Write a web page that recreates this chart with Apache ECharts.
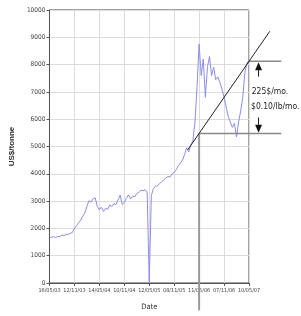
<!DOCTYPE html>
<html><head><meta charset="utf-8">
<script src="https://cdn.jsdelivr.net/npm/echarts@6/dist/echarts.min.js"></script>
<style>html,body{margin:0;padding:0;background:#fff}#c{width:301px;height:316px}</style>
</head><body><div id="c"></div>
<script>
// x tick labels (every 12 samples)
const tickLabels = ['16/05/03','12/11/03','14/05/04','10/11/04','12/05/05','08/11/05','11/05/06','07/11/06','10/05/07'];
// copper price, US$/tonne, sampled at 97 evenly spaced dates
const prices = [
 1680,1670,1700,1660,1710,1690,1760,1730,1790,1780,1820,1850,
 2000,2100,2200,2300,2450,2560,2800,3020,2960,3080,3120,2800,
 2680,2780,2620,2740,2700,2860,2800,2900,2880,3050,3220,2880,
 2950,3100,3230,3080,3180,3150,3280,3320,3400,3380,3420,3330,
 0,3200,3450,3550,3560,3650,3700,3780,3850,3900,3880,4000,
 4050,4150,4300,4400,4500,4700,4950,4800,5050,5200,5900,7200,
 8750,7600,8200,6800,7900,8300,7600,7900,7450,7550,7350,7100,
 6800,6450,6100,5900,5700,5850,5350,5900,6300,6800,7700,8050,
 8150
];
// annotation geometry in data units [sample index, US$/tonne]
const trendLine = [[66.5,4875],[106,9220]];
const upperLevel = [[96,8120],[111.5,8120]];
const lowerLevel = [[72,5480],[111.5,5480]];
const dropLine = [[72,5480],[72,-1000]];
const upArrow = [[100.6,7560],[100.6,8090]];
const downArrow = [[100.6,6060],[100.6,5500]];
const noteLines = [['225$/mo.',[97.3,7000]],['$0.10/lb/mo.',[97.0,6460]]];

const font = '"DejaVu Sans Condensed", "Liberation Sans", sans-serif';
const chart = echarts.init(document.getElementById('c'));
chart.setOption({
  animation:false,
  grid:{left:39, right:52, top:10, bottom:33, show:true, borderColor:'#444', borderWidth:1},
  xAxis:{type:'value', min:0, max:96, interval:12,
    name:'Date', nameLocation:'middle', nameGap:20,
    nameTextStyle:{fontFamily:font, fontSize:7.5, color:'#333'},
    axisLine:{lineStyle:{color:'#555'}},
    axisTick:{show:true, length:3, lineStyle:{color:'#555'}},
    axisLabel:{fontFamily:font, fontSize:5.5, color:'#444', margin:5,
      formatter:v=>tickLabels[Math.round(v/12)]},
    splitLine:{show:true, lineStyle:{color:'#dcdcdc'}}},
  yAxis:{type:'value', min:0, max:10000, interval:1000,
    name:'US$/tonne', nameLocation:'middle', nameGap:28,
    nameTextStyle:{fontFamily:'"Liberation Sans", sans-serif', fontWeight:'bold', fontSize:8, color:'#333'},
    axisLine:{show:true, lineStyle:{color:'#555'}},
    axisTick:{show:true, length:3, lineStyle:{color:'#555'}},
    axisLabel:{fontFamily:font, fontSize:6.5, color:'#444', margin:4, formatter:v=>String(v)},
    splitLine:{show:true, lineStyle:{color:'#dcdcdc'}}},
  series:[
    {type:'line', data:prices.map((v,i)=>[i,v]), showSymbol:false, symbol:'none',
      lineStyle:{color:'#8c8ce8', width:1}, z:2}
  ]
});

// annotations: convert data coordinates through the chart's own scales
const px = p => chart.convertToPixel({gridIndex:0}, p);
function lineEl(pts, color, width) {
  const a = px(pts[0]), b = px(pts[1]);
  return {type:'line', shape:{x1:a[0], y1:a[1], x2:b[0], y2:b[1]},
    style:{stroke:color, lineWidth:width}, z:10, silent:true};
}
function arrowEls(pts) {
  const a = px(pts[0]), b = px(pts[1]);
  const dir = Math.sign(b[1]-a[1]);
  const head = 8, half = 3.5;
  return [
    {type:'line', shape:{x1:a[0], y1:a[1], x2:b[0], y2:b[1]-dir*head},
      style:{stroke:'#111', lineWidth:1}, z:10, silent:true},
    {type:'polygon', shape:{points:[[b[0],b[1]],[b[0]-half,b[1]-dir*head],[b[0]+half,b[1]-dir*head]]},
      style:{fill:'#111'}, z:10, silent:true}
  ];
}
const els = [
  lineEl(dropLine,'#999',2),
  lineEl(lowerLevel,'#888',1.5),
  lineEl(upperLevel,'#888',1.5),
  lineEl(trendLine,'#222',1),
  ...arrowEls(upArrow),
  ...arrowEls(downArrow)
];
noteLines.forEach(n => {
  const p = px(n[1]);
  els.push({type:'text', x:p[0], y:p[1], z:10, silent:true,
    style:{text:n[0], font:'8.5px "DejaVu Sans Condensed", sans-serif', fill:'#222',
      textAlign:'left', textVerticalAlign:'middle'}});
});
chart.setOption({graphic:{elements:els}});
</script></body></html>
